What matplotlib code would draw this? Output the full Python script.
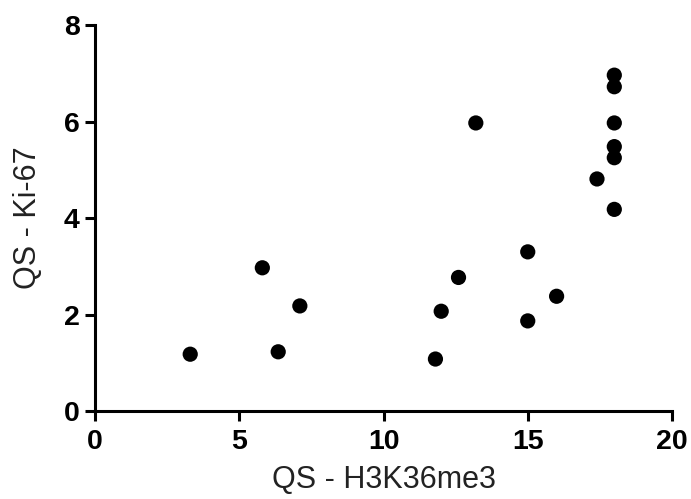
import matplotlib
matplotlib.use("Agg")
import matplotlib.pyplot as plt

# QS scores
h3k36me3 = [3.3, 5.8, 6.35, 7.1, 11.8, 12.0, 12.6, 13.2, 15.0, 15.0, 16.0,
            17.4, 18.0, 18.0, 18.0, 18.0, 18.0, 18.0]
ki67 = [1.18, 2.97, 1.23, 2.18, 1.08, 2.07, 2.77, 5.97, 3.30, 1.87, 2.38,
        4.81, 6.96, 6.72, 5.97, 5.48, 5.25, 4.18]
xticks = [0, 5, 10, 15, 20]
yticks = [0, 2, 4, 6, 8]

plt.rcParams['font.family'] = ['Liberation Sans', 'DejaVu Sans']

fig = plt.figure(figsize=(6.91, 4.99), dpi=100)
ax = fig.add_axes([0.1375, 0.176, 0.835, 0.774])

ax.scatter(h3k36me3, ki67, s=120, color='black', edgecolors='none', clip_on=False, zorder=3)

ax.set_xlim(0, 20)
ax.set_ylim(0, 8)
ax.set_xticks(xticks)
ax.set_yticks(yticks)
ax.spines['top'].set_visible(False)
ax.spines['right'].set_visible(False)
for side in ['left', 'bottom']:
    ax.spines[side].set_linewidth(2.2)
ax.tick_params(width=2.2, length=7, labelsize=20.5)
ax.tick_params(axis='x', pad=6)
ax.tick_params(axis='y', pad=4)
for lab in ax.get_xticklabels() + ax.get_yticklabels():
    lab.set_fontweight('bold')

ax.set_xlabel('QS - H3K36me3', fontsize=22, color='#222222', labelpad=7)
ax.set_ylabel('QS - Ki-67', fontsize=22, color='#222222', labelpad=15)

fig.savefig('out.png', dpi=100)
